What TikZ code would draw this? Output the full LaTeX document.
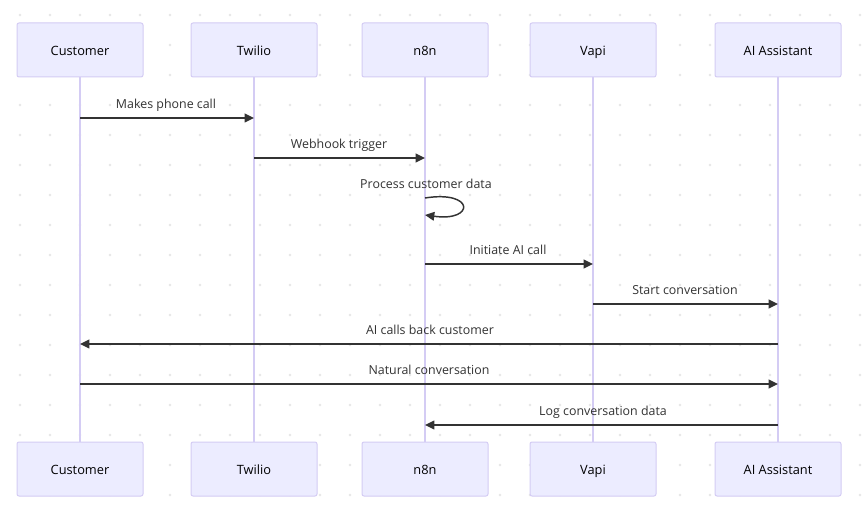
\documentclass[tikz,border=0pt]{standalone}
\usepackage{fontspec}
\setmainfont{Open Sans}
\usetikzlibrary{arrows.meta}
\definecolor{actfill}{HTML}{ECECFF}
\definecolor{actdraw}{HTML}{D4CCF4}
\definecolor{lifecol}{HTML}{D4CCF4}
\definecolor{msgcol}{HTML}{333333}
\definecolor{dotcol}{HTML}{E6E6E6}
\tikzset{
  actor/.style={draw=actdraw, fill=actfill, rounded corners=1.5pt, minimum width=94.5pt, minimum height=40.5pt, inner sep=0pt, font=\fontsize{9.6pt}{11pt}\selectfont, text=black, line width=0.75pt, text height=10.2pt, text depth=1.6pt},
  life/.style={draw=lifecol, line width=1.1pt},
  msg/.style={draw=msgcol, line width=1.1pt, -{Triangle[length=7pt,width=6.5pt]}},
  lbl/.style={font=\fontsize{9.3pt}{11pt}\selectfont, text=msgcol, inner sep=0pt, text height=10.2pt, text depth=1.6pt}
}
\begin{document}
\begin{tikzpicture}[x=0.75pt,y=-0.75pt]
\useasboundingbox (0,0) rectangle (864,520);
\fill[white] (0,0) rectangle (864,520);
% dotted grid
\foreach \i in {0,...,28} {
  \foreach \j in {0,...,16} {
    \fill[dotcol] (20+30*\i,15+30*\j) circle (1.0pt);
  }
}
% actors
\foreach \n/\x/\t in {cu/80/Customer, tw/254/Twilio, n8/425/n8n, va/593/Vapi, ai/778/AI Assistant} {
  \node[actor] (\n t) at (\x,50) {\t};
  \node[actor] (\n b) at (\x,469) {\t};
  \draw[life] (\n t.south) -- (\n b.north);
}
% message anchors
\coordinate (c1) at (80,118);  \coordinate (t1) at (254,118);
\coordinate (t2) at (254,158); \coordinate (n2) at (425,158);
\coordinate (s1) at (425,198); \coordinate (s2) at (425,215);
\coordinate (n4) at (425,264); \coordinate (v4) at (593,264);
\coordinate (v5) at (593,304); \coordinate (a5) at (778,304);
\coordinate (a6) at (778,344); \coordinate (c6) at (80,344);
\coordinate (c7) at (80,384);  \coordinate (a7) at (778,384);
\coordinate (a8) at (778,425); \coordinate (n8) at (425,425);

\draw[msg] (c1) -- (t1);
\node[lbl] (l1) at (166,102.8) {Makes phone call};
\draw[msg] (t2) -- (n2);
\node[lbl] (l2) at (339,142.8) {Webhook trigger};
\draw[msg] (s1) .. controls (475,190) and (475,222) .. (s2);
\node[lbl] (l3) at (426,183) {Process customer data};
\draw[msg] (n4) -- (v4);
\node[lbl] (l4) at (508,248.8) {Initiate AI call};
\draw[msg] (v5) -- (a5);
\node[lbl] (l5) at (685,288.8) {Start conversation};
\draw[msg] (a6) -- (c6);
\node[lbl] (l6) at (430,328.8) {AI calls back customer};
\draw[msg] (c7) -- (a7);
\node[lbl] (l7) at (429,368.8) {Natural conversation};
\draw[msg] (a8) -- (n8);
\node[lbl] (l8) at (603,409.8) {Log conversation data};
\end{tikzpicture}
\end{document}
